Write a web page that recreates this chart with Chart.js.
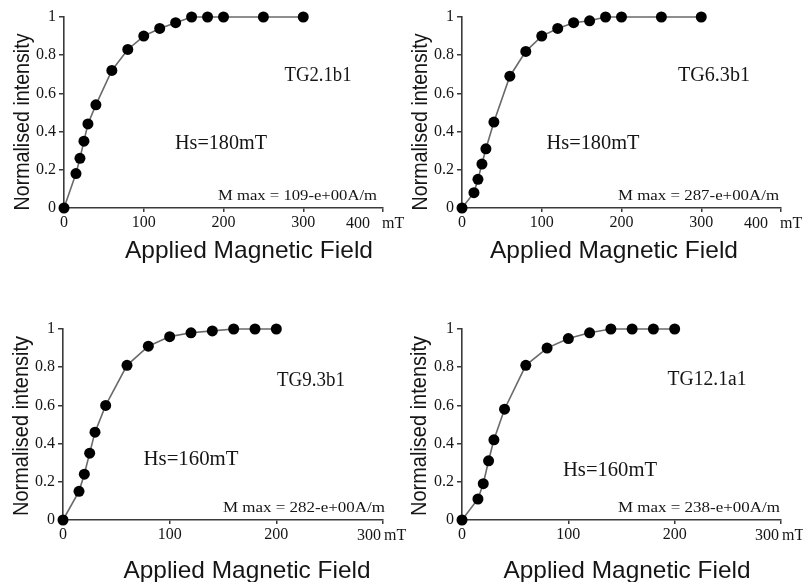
<!DOCTYPE html>
<html><head><meta charset="utf-8">
<script src="https://cdn.jsdelivr.net/npm/chart.js@4"></script>
<style>
html,body{margin:0;padding:0;background:#fff;}
#wrap{position:relative;width:803px;height:582px;overflow:hidden;background:#fff;}
#wrap canvas{position:absolute;left:0;top:0;}
</style></head><body>
<div id="wrap">
<canvas id="c0" width="803" height="582"></canvas>
<canvas id="c1" width="803" height="582"></canvas>
<canvas id="c2" width="803" height="582"></canvas>
<canvas id="c3" width="803" height="582"></canvas>
</div>
<script>
// ---- data ----
const fieldTop = [0, 15, 20, 25, 30, 40, 60, 80, 100, 120, 140, 160, 180, 200, 250, 300];
const intensityTG21b1 = [0, 0.18, 0.26, 0.35, 0.44, 0.54, 0.72, 0.83, 0.90, 0.94, 0.97, 1, 1, 1, 1, 1];
const intensityTG63b1 = [0, 0.08, 0.15, 0.23, 0.31, 0.45, 0.69, 0.82, 0.90, 0.94, 0.97, 0.98, 1, 1, 1, 1];
const fieldBottom = [0, 15, 20, 25, 30, 40, 60, 80, 100, 120, 140, 160, 180, 200];
const intensityTG93b1 = [0, 0.15, 0.24, 0.35, 0.46, 0.60, 0.81, 0.91, 0.96, 0.98, 0.99, 1, 1, 1];
const intensityTG121a1 = [0, 0.11, 0.19, 0.31, 0.42, 0.58, 0.81, 0.90, 0.95, 0.98, 1, 1, 1, 1];
const yTickValues = [0, 0.2, 0.4, 0.6, 0.8, 1];
const xTickValuesTop = [0, 100, 200, 300, 400];
const xTickValuesBottom = [0, 100, 200, 300];
const sampleNames = ['TG2.1b1', 'TG6.3b1', 'TG9.3b1', 'TG12.1a1'];
const saturationLabels = ['Hs=180mT', 'Hs=180mT', 'Hs=160mT', 'Hs=160mT'];
const mmaxLabels = ['M max = 109-e+00A/m', 'M max = 287-e+00A/m', 'M max = 282-e+00A/m', 'M max = 238-e+00A/m'];
const xAxisTitle = 'Applied Magnetic Field';
const yAxisTitle = 'Normalised intensity';
const unitLabel = 'mT';

// ---- layout ----
const W = 803, H = 582, YW = 40, XH = 30;
const SERIF = '"Liberation Serif", "Times New Roman", serif';
const SANS = '"Liberation Sans", Arial, sans-serif';
const INK = '#151515';
const panels = [
  {xs: fieldTop, ys: intensityTG21b1, xticks: xTickValuesTop, area: {l: 64, r: 383, t: 17, b: 208},
   unit: {shift: 25, gap: -1},
   name: {cx: 318, by: 81, w: 67}, hs: {cx: 221, by: 149, w: 92}, mm: {r: 377, by: 200, w: 159},
   xt: {cx: 249, by: 258, w: 248}, yt: {cx: 23, cy: 122, w: 177}},
  {xs: fieldTop, ys: intensityTG63b1, xticks: xTickValuesTop, area: {l: 462, r: 781, t: 17, b: 208},
   unit: {shift: 25, gap: -1},
   name: {cx: 714, by: 81, w: 72}, hs: {cx: 593, by: 149, w: 93}, mm: {r: 779, by: 200, w: 161},
   xt: {cx: 614, by: 258, w: 248}, yt: {cx: 421, cy: 122, w: 177}},
  {xs: fieldBottom, ys: intensityTG93b1, xticks: xTickValuesBottom, area: {l: 63, r: 383, t: 329, b: 520},
   unit: {shift: 14, gap: 1},
   name: {cx: 311, by: 386, w: 68}, hs: {cx: 191, by: 465, w: 95}, mm: {r: 385, by: 512, w: 162},
   xt: {cx: 247, by: 578, w: 247}, yt: {cx: 22, cy: 426, w: 180}},
  {xs: fieldBottom, ys: intensityTG121a1, xticks: xTickValuesBottom, area: {l: 462, r: 781, t: 329, b: 520},
   unit: {shift: 14, gap: 1},
   name: {cx: 707, by: 385, w: 79}, hs: {cx: 610, by: 476, w: 94}, mm: {r: 780, by: 512, w: 162},
   xt: {cx: 627, by: 578, w: 247}, yt: {cx: 420, cy: 426, w: 180}}
];

function fitText(ctx, text, x, y, font, width, align, baseline, rot) {
  ctx.save();
  ctx.font = font;
  ctx.fillStyle = INK;
  ctx.textAlign = align;
  ctx.textBaseline = baseline;
  const m = ctx.measureText(text).width;
  const s = width ? width / m : 1;
  ctx.translate(x, y);
  if (rot) ctx.rotate(rot);
  ctx.scale(s, 1);
  ctx.fillText(text, 0, 0);
  ctx.restore();
}

const textPlugin = {
  id: 'panelText',
  afterDraw(chart, args, opts) {
    const p = panels[opts.index];
    const i = opts.index;
    const ctx = chart.ctx;
    fitText(ctx, sampleNames[i], p.name.cx, p.name.by, '20px ' + SERIF, p.name.w, 'center', 'alphabetic');
    fitText(ctx, saturationLabels[i], p.hs.cx, p.hs.by, '20px ' + SERIF, p.hs.w, 'center', 'alphabetic');
    fitText(ctx, mmaxLabels[i], p.mm.r, p.mm.by, '15px ' + SERIF, p.mm.w, 'right', 'alphabetic');
    fitText(ctx, xAxisTitle, p.xt.cx, p.xt.by, '24px ' + SANS, p.xt.w, 'center', 'alphabetic');
    fitText(ctx, yAxisTitle, p.yt.cx, p.yt.cy, '22px ' + SANS, p.yt.w, 'center', 'middle', -Math.PI / 2);
    // last x tick label with unit
    const xs = chart.scales.x;
    const xmax = p.xticks[p.xticks.length - 1];
    const px = xs.getPixelForValue(xmax);
    const by = chart.chartArea.bottom + 20;
    ctx.save();
    ctx.font = '16px ' + SERIF;
    ctx.fillStyle = INK;
    ctx.textBaseline = 'alphabetic';
    ctx.textAlign = 'center';
    ctx.fillText(String(xmax), px - p.unit.shift, by);
    ctx.textAlign = 'left';
    ctx.fillText(unitLabel, px + p.unit.gap, by);
    ctx.restore();
  }
};

panels.forEach((p, i) => {
  const a = p.area;
  const xmax = p.xticks[p.xticks.length - 1];
  new Chart(document.getElementById('c' + i), {
    type: 'line',
    data: {
      datasets: [{
        data: p.xs.map((v, k) => ({x: v, y: p.ys[k]})),
        borderColor: '#6a6a6a',
        borderWidth: 1.6,
        pointRadius: 5.5,
        pointBackgroundColor: '#000',
        pointBorderColor: '#000',
        pointBorderWidth: 0,
        tension: 0,
        fill: false,
        clip: false
      }]
    },
    options: {
      responsive: false,
      animation: false,
      devicePixelRatio: 1,
      layout: {padding: {left: a.l - YW, right: W - a.r, top: a.t, bottom: H - a.b - XH}},
      plugins: {legend: {display: false}, tooltip: {enabled: false}, panelText: {index: i}},
      scales: {
        x: {
          type: 'linear', min: 0, max: xmax,
          afterBuildTicks: s => { s.ticks = p.xticks.map(v => ({value: v})); },
          afterFit: s => { s.height = XH; },
          border: {display: true, color: '#3a3a3a', width: 1.6},
          grid: {display: true, drawOnChartArea: false, drawTicks: true, tickLength: 4, color: '#3a3a3a', lineWidth: 1.5},
          ticks: {font: {family: SERIF, size: 16}, color: INK, padding: 1, maxRotation: 0, autoSkip: false,
                  callback: v => (v === xmax ? '' : String(v))}
        },
        y: {
          type: 'linear', min: 0, max: 1,
          afterBuildTicks: s => { s.ticks = yTickValues.map(v => ({value: v})); },
          afterFit: s => { s.width = YW; },
          border: {display: true, color: '#3a3a3a', width: 1.6},
          grid: {display: true, drawOnChartArea: false, drawTicks: true, tickLength: 5, color: '#3a3a3a', lineWidth: 1.5},
          ticks: {font: {family: SERIF, size: 16}, color: INK, padding: 3, autoSkip: false,
                  callback: v => String(v)}
        }
      }
    },
    plugins: [textPlugin]
  });
});
</script>
</body></html>
